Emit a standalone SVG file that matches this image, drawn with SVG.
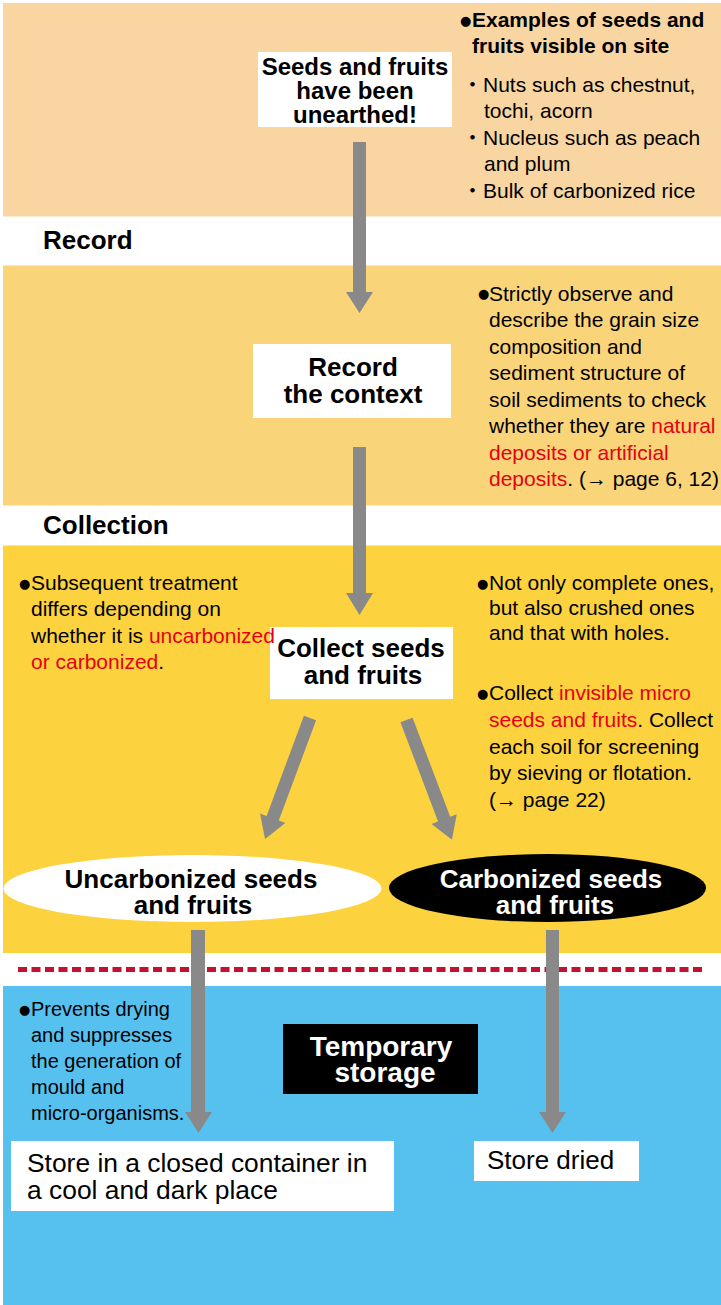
<svg xmlns="http://www.w3.org/2000/svg" width="721" height="1305" viewBox="0 0 721 1305">
<style>
text{font-family:"Liberation Sans",Arial,"Noto Sans CJK JP",sans-serif;fill:#000}
.b{font-weight:bold}
.h{font-size:26px;font-weight:bold}
.n{font-size:21px}
.nb{font-size:21px;font-weight:bold}
.red{fill:#E60012}
.bul{font-size:13px;font-family:"DejaVu Sans",sans-serif;font-weight:normal}
.arr{fill:#898989}
.wbox{fill:#FFFFFF}
.wt{fill:#FFFFFF}
</style>
<rect width="721" height="1305" fill="#FFFFFF"/>
<!-- bands -->
<rect x="3" y="3" width="718" height="213.5" fill="#F9D6A1"/>
<rect x="3" y="265.5" width="718" height="240" fill="#FAD479"/>
<rect x="3" y="545.5" width="718" height="407.5" fill="#FDD23F"/>
<rect x="3" y="986" width="718" height="319" fill="#56C1EF"/>
<line x1="18" y1="969.5" x2="704" y2="969.5" stroke="#C8102E" stroke-width="5" stroke-dasharray="9 4.5"/>

<text class="h" x="43" y="249">Record</text>
<text class="h" x="43" y="534">Collection</text>

<g id="examples">
<text class="nb" x="460" y="27"><tspan class="bul" dy="-2.5">●</tspan><tspan x="472" dy="2.5">Examples of seeds and</tspan></text>
<text class="nb" x="472" y="53">fruits visible on site</text>
<text class="n" x="462" y="92">・<tspan x="483">Nuts such as chestnut,</tspan></text>
<text class="n" x="484" y="118">tochi, acorn</text>
<text class="n" x="462" y="145">・<tspan x="483">Nucleus such as peach</tspan></text>
<text class="n" x="484" y="171">and plum</text>
<text class="n" x="462" y="198">・<tspan x="483">Bulk of carbonized rice</tspan></text>
</g>

<g id="unearthed">
<rect class="wbox" x="258" y="52" width="194" height="75"/>
<text class="b" font-size="24" text-anchor="middle" x="355" y="75">Seeds and fruits</text>
<text class="b" font-size="24" text-anchor="middle" x="355" y="99">have been</text>
<text class="b" font-size="24" text-anchor="middle" x="355" y="123">unearthed!</text>
</g>

<g id="record-context">
<rect class="wbox" x="253" y="344" width="198" height="74"/>
<text class="h" text-anchor="middle" x="353" y="376">Record</text>
<text class="h" text-anchor="middle" x="353" y="403">the context</text>
</g>

<g id="record-note">
<text class="n" x="478" y="300.5"><tspan class="bul" dy="-2.5">●</tspan><tspan x="489" dy="2.5">Strictly observe and</tspan></text>
<text class="n" x="489" y="327">describe the grain size</text>
<text class="n" x="489" y="353.5">composition and</text>
<text class="n" x="489" y="380">sediment structure of</text>
<text class="n" x="489" y="406.5">soil sediments to check</text>
<text class="n" x="489" y="433">whether they are <tspan class="red">natural</tspan></text>
<text class="n red" x="489" y="459.5">deposits or artificial</text>
<text class="n" x="489" y="486"><tspan class="red">deposits</tspan>. (→ page 6, 12)</text>
</g>

<g id="collect">
<rect class="wbox" x="270" y="627" width="183" height="72"/>
<text class="h" text-anchor="middle" x="361" y="657">Collect seeds</text>
<text class="h" text-anchor="middle" x="363" y="684">and fruits</text>
</g>

<g id="collect-note-left">
<text class="n" x="19" y="590"><tspan class="bul" dy="-2.5">●</tspan><tspan x="31" dy="2.5">Subsequent treatment</tspan></text>
<text class="n" x="31" y="616">differs depending on</text>
<text class="n" x="31" y="643">whether it is <tspan class="red">uncarbonized</tspan></text>
<text class="n" x="31" y="669"><tspan class="red">or carbonized</tspan>.</text>
</g>

<g id="collect-note-right">
<text class="n" x="477" y="590"><tspan class="bul" dy="-2.5">●</tspan><tspan x="489" dy="2.5">Not only complete ones,</tspan></text>
<text class="n" x="489" y="615">but also crushed ones</text>
<text class="n" x="489" y="640">and that with holes.</text>
<text class="n" x="477" y="700"><tspan class="bul" dy="-2.5">●</tspan><tspan x="489" dy="2.5">Collect </tspan><tspan class="red">invisible micro</tspan></text>
<text class="n" x="489" y="727"><tspan class="red">seeds and fruits</tspan>. Collect</text>
<text class="n" x="489" y="754">each soil for screening</text>
<text class="n" x="489" y="780">by sieving or flotation.</text>
<text class="n" x="489" y="807">(→ page 22)</text>
</g>

<g id="uncarbonized">
<ellipse cx="192.5" cy="888.5" rx="189" ry="33.5" fill="#FFFFFF"/>
<text class="h" text-anchor="middle" x="191" y="888">Uncarbonized seeds</text>
<text class="h" text-anchor="middle" x="193" y="914">and fruits</text>
</g>

<g id="carbonized">
<ellipse cx="547.5" cy="888" rx="158.5" ry="34" fill="#000000"/>
<text class="h wt" text-anchor="middle" x="551" y="888">Carbonized seeds</text>
<text class="h wt" text-anchor="middle" x="555" y="914">and fruits</text>
</g>

<g id="storage-note">
<text x="19" y="1016" font-size="20"><tspan class="bul" dy="-2.5">●</tspan><tspan x="31" dy="2.5">Prevents drying</tspan></text>
<text x="31" y="1042" font-size="20">and suppresses</text>
<text x="31" y="1068" font-size="20">the generation of</text>
<text x="31" y="1094" font-size="20">mould and</text>
<text x="31" y="1120" font-size="20">micro-organisms.</text>
</g>

<g id="temporary-storage">
<rect x="283" y="1024" width="195" height="70" fill="#000000"/>
<text class="b wt" text-anchor="middle" x="381" y="1056" font-size="28">Temporary</text>
<text class="b wt" text-anchor="middle" x="385" y="1082" font-size="28">storage</text>
</g>

<g id="store-closed">
<rect class="wbox" x="11" y="1141" width="383" height="70"/>
<text x="27" y="1172" font-size="26.4">Store in a closed container in</text>
<text x="27" y="1199" font-size="26.4">a cool and dark place</text>
</g>

<g id="store-dried">
<rect class="wbox" x="474" y="1141" width="165" height="40"/>
<text x="487" y="1169" font-size="26">Store dried</text>
</g>

<g id="connectors">
<polygon class="arr" points="353,142 366,142 366,292 373,292 359.5,313 346,292 353,292"/>
<polygon class="arr" points="353,447 366,447 366,593 373,593 359.5,615 346,593 353,593"/>
<polygon class="arr" transform="translate(310,718) rotate(20.4)" points="-6.5,0 6.5,0 6.5,107 13.5,107 0,129 -13.5,107 -6.5,107"/>
<polygon class="arr" transform="translate(406.5,720) rotate(-20.8)" points="-6.5,0 6.5,0 6.5,106 13.5,106 0,128 -13.5,106 -6.5,106"/>
<polygon class="arr" points="191,930 205,930 205,1112 212,1112 198.5,1133 185,1112 191,1112"/>
<polygon class="arr" points="546,930 559,930 559,1112 566,1112 552.5,1133 539,1112 546,1112"/>
</g>
</svg>
